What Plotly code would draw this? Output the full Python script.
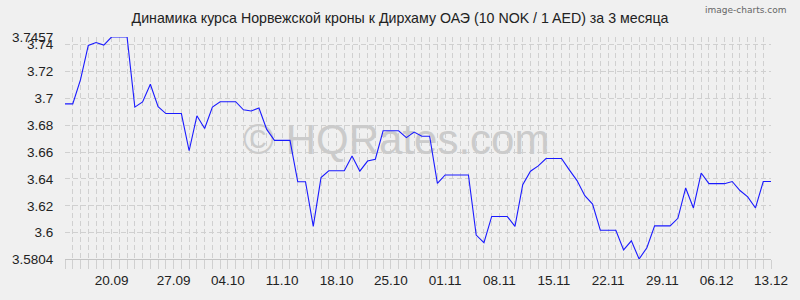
import plotly.graph_objects as go

# Daily rate values (10 NOK / 1 AED), 13.09 .. 13.12
values = [
    3.6959, 3.6959, 3.7140, 3.7394, 3.7416, 3.7397, 3.7457, 3.7457, 3.7457, 3.6935,
    3.6973, 3.7105, 3.6939, 3.6887, 3.6887, 3.6887, 3.6610, 3.6870, 3.6776, 3.6935,
    3.6975, 3.6975, 3.6975, 3.6915, 3.6906, 3.6928, 3.6769, 3.6687, 3.6687, 3.6687,
    3.6379, 3.6379, 3.6047, 3.6410, 3.6461, 3.6461, 3.6461, 3.6571, 3.6458, 3.6533,
    3.6547, 3.6759, 3.6759, 3.6759, 3.6708, 3.6749, 3.6718, 3.6718, 3.6367, 3.6430,
    3.6430, 3.6430, 3.6430, 3.5982, 3.5926, 3.6121, 3.6121, 3.6121, 3.6047, 3.6357,
    3.6458, 3.6497, 3.6552, 3.6552, 3.6552, 3.6468, 3.6388, 3.6275, 3.6213, 3.6018,
    3.6018, 3.6018, 3.5872, 3.5939, 3.5804, 3.5888, 3.6051, 3.6051, 3.6051, 3.6107,
    3.6333, 3.6184, 3.6444, 3.6365, 3.6365, 3.6365, 3.6381, 3.6314, 3.6266, 3.6184,
    3.6381, 3.6381,
]
x_index = list(range(len(values)))

x_tick_pos = [6, 14, 21, 28, 35, 42, 49, 56, 63, 70, 77, 84, 91]
x_tick_labels = ["20.09", "27.09", "04.10", "11.10", "18.10", "25.10", "01.11",
                 "08.11", "15.11", "22.11", "29.11", "06.12", "13.12"]

y_tick_vals = [3.5804, 3.60, 3.62, 3.64, 3.66, 3.68, 3.70, 3.72, 3.74, 3.7457]
y_tick_labels = ["3.5804", "3.6", "3.62", "3.64", "3.66", "3.68", "3.7", "3.72", "3.74", "3.7457"]

y_min, y_max = 3.5804, 3.7457

title_text = "Динамика курса Норвежской кроны к Дирхаму ОАЭ (10 NOK / 1 AED) за 3 месяца"
watermark = "© HQRates.com"
brand = "image-charts.com"

BG = "#f0f0f0"
GRID = "#d0d0d0"
FONT = "Liberation Sans, Arial, sans-serif"

fig = go.Figure()

# watermark (drawn beneath the line)
fig.add_trace(go.Scatter(
    x=[42.7], y=[3.6662], mode="text", text=[watermark],
    textfont=dict(family="Liberation Sans, Arial", size=42, color="#cbcbcb"),
    hoverinfo="skip", showlegend=False,
))

fig.add_trace(go.Scatter(
    x=x_index, y=values, mode="lines",
    line=dict(color="#1a1aff", width=1.1),
    showlegend=False,
))

fig.update_layout(
    width=800, height=300,
    margin=dict(l=59.7, r=20.7, t=36.5, b=33.5),
    paper_bgcolor=BG, plot_bgcolor=BG,
    font=dict(family=FONT, size=13.5, color="#222222"),
    title=dict(text=title_text, x=0.5, xanchor="center", y=0.94, yanchor="middle",
               yref="container", font=dict(family=FONT, size=14.2, color="#222222")),
    annotations=[dict(
        text=brand, xref="paper", yref="paper", x=1.0246, y=1.12,
        xanchor="right", yanchor="middle", showarrow=False,
        font=dict(family="DejaVu Sans, sans-serif", size=9, color="#666666"),
    )],
)

fig.update_xaxes(
    range=[0, len(values) - 1],
    tickmode="array", tickvals=x_tick_pos, ticktext=x_tick_labels,
    showgrid=True, gridcolor=GRID, griddash="5px,3px", gridwidth=1,
    ticks="outside", ticklen=9, tickcolor=GRID, tickwidth=1,
    minor=dict(dtick=1, tick0=0, showgrid=True, gridcolor=GRID, griddash="5px,3px",
               gridwidth=1, ticks="outside", ticklen=9, tickcolor=GRID),
    showline=True, linecolor="#c4c4c4", linewidth=1,
    zeroline=False, fixedrange=True,
)
fig.update_yaxes(
    range=[y_min, y_max],
    tickmode="array", tickvals=y_tick_vals, ticktext=y_tick_labels,
    showgrid=True, gridcolor=GRID, griddash="5px,3px", gridwidth=1,
    ticks="outside", ticklen=8, tickcolor="rgba(0,0,0,0)",
    showline=False, zeroline=False, fixedrange=True,
)

fig.write_html("out.html")
